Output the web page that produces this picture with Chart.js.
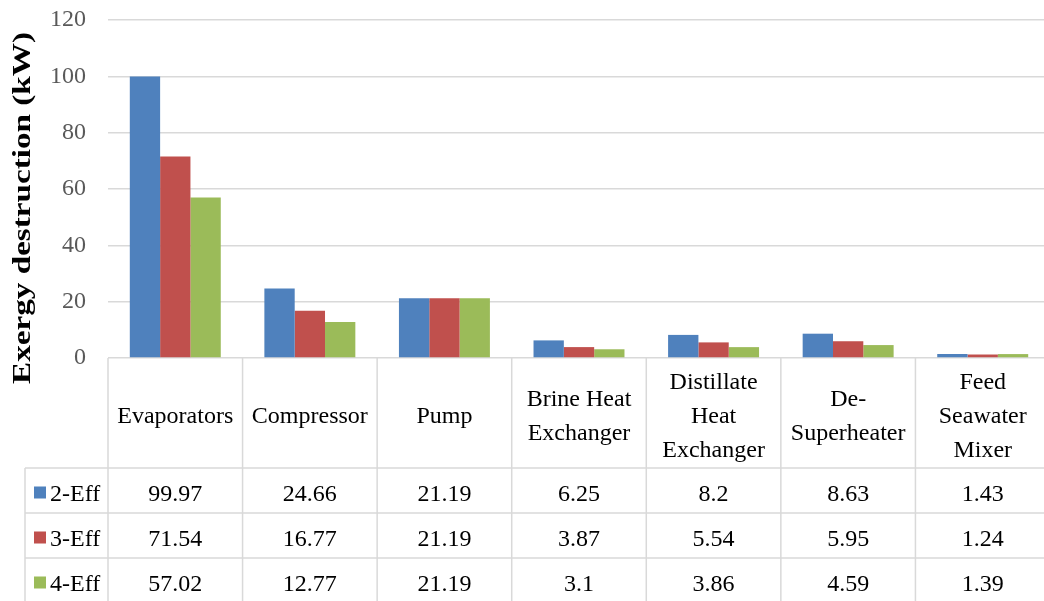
<!DOCTYPE html>
<html>
<head>
<meta charset="utf-8">
<script src="https://cdn.jsdelivr.net/npm/chart.js@4"></script>
<style>
  html, body { margin: 0; padding: 0; background: #ffffff; }
  #wrap { width: 1044px; height: 601px; overflow: hidden; position: relative; }
  #c { display: block; }
</style>
</head>
<body>
<div id="wrap"><canvas id="c" width="1051" height="601"></canvas></div>
<script>
// Components, each label split into the lines shown in the table header
const categories = [
  ['Evaporators'],
  ['Compressor'],
  ['Pump'],
  ['Brine Heat', 'Exchanger'],
  ['Distillate', 'Heat', 'Exchanger'],
  ['De-', 'Superheater'],
  ['Feed', 'Seawater', 'Mixer']
];

const seriesNames = ['2-Eff', '3-Eff', '4-Eff'];

// Exergy destruction (kW) per component
const eff2 = [99.97, 24.66, 21.19, 6.25, 8.2, 8.63, 1.43];
const eff3 = [71.54, 16.77, 21.19, 3.87, 5.54, 5.95, 1.24];
const eff4 = [57.02, 12.77, 21.19, 3.1, 3.86, 4.59, 1.39];

const yTicks = [0, 20, 40, 60, 80, 100, 120];

const seriesColors = ['#4F81BD', '#C0504D', '#9BBB59'];
const seriesValues = [eff2, eff3, eff4];

const SERIF = '"Liberation Serif", "Times New Roman", serif';
const LINE = '#d9d9d9';

// Data table under the plot: header row of component names, then one row per series
const dataTablePlugin = {
  id: 'dataTable',
  afterDraw(chart) {
    const ctx = chart.ctx;
    const area = chart.chartArea;
    const xs = chart.scales.x;
    const n = chart.data.labels.length;
    const catW = (area.right - area.left) / n;
    const headerH = 110;
    const rowH = 45;
    const legendLeft = 25;
    const bottom = chart.height;
    const headerBottom = area.bottom + headerH;

    ctx.save();
    ctx.strokeStyle = LINE;
    ctx.lineWidth = 1.5;

    // horizontal rules
    ctx.beginPath();
    for (let r = 0; r < seriesNames.length; r++) {
      const y = headerBottom + r * rowH;
      ctx.moveTo(legendLeft, y);
      ctx.lineTo(chart.width, y);
    }
    // legend column left edge
    ctx.moveTo(legendLeft, headerBottom);
    ctx.lineTo(legendLeft, bottom);
    // column edges
    ctx.moveTo(area.left, area.bottom);
    ctx.lineTo(area.left, bottom);
    for (let i = 0; i < n; i++) {
      const x = xs.getPixelForValue(i) + catW / 2;
      ctx.moveTo(x, area.bottom);
      ctx.lineTo(x, bottom);
    }
    ctx.stroke();

    ctx.fillStyle = '#000000';
    ctx.font = '24px ' + SERIF;
    ctx.textAlign = 'center';
    ctx.textBaseline = 'alphabetic';

    // header: component names
    const midBase = area.bottom + 65;
    const lineGap = 34;
    chart.data.labels.forEach((lines, i) => {
      const cx = xs.getPixelForValue(i);
      lines.forEach((txt, j) => {
        const y = midBase + (j - (lines.length - 1) / 2) * lineGap;
        ctx.fillText(txt, cx, y);
      });
    });

    // series rows
    chart.data.datasets.forEach((ds, r) => {
      const rowMid = headerBottom + r * rowH + rowH / 2;
      ctx.textAlign = 'center';
      ds.data.forEach((v, i) => {
        ctx.fillText(String(v), xs.getPixelForValue(i), rowMid + 10);
      });
      // legend key
      ctx.fillStyle = ds.backgroundColor;
      ctx.fillRect(34, rowMid - 4, 12, 12);
      ctx.fillStyle = '#000000';
      ctx.textAlign = 'left';
      ctx.fillText(ds.label, 50, rowMid + 10);
    });
    ctx.restore();
  }
};

// Rotated bold axis title on the left
const axisTitlePlugin = {
  id: 'axisTitle',
  afterDraw(chart) {
    const ctx = chart.ctx;
    const text = 'Exergy destruction (kW)';
    ctx.save();
    ctx.font = 'bold 26px ' + SERIF;
    const w = ctx.measureText(text).width;
    const targetLen = 352;
    ctx.translate(23, 208);
    ctx.rotate(-Math.PI / 2);
    ctx.scale(targetLen / w, 1);
    ctx.fillStyle = '#000000';
    ctx.textAlign = 'center';
    ctx.textBaseline = 'middle';
    ctx.fillText(text, 0, 0);
    ctx.restore();
  }
};

new Chart(document.getElementById('c'), {
  type: 'bar',
  data: {
    labels: categories,
    datasets: seriesNames.map((name, k) => ({
      label: name,
      data: seriesValues[k],
      backgroundColor: seriesColors[k],
      borderWidth: 0,
      barPercentage: 1.0,
      categoryPercentage: 0.676
    }))
  },
  options: {
    responsive: false,
    animation: false,
    devicePixelRatio: 1,
    layout: { padding: { left: 0, top: 20, right: 1, bottom: 0 } },
    plugins: {
      legend: { display: false },
      tooltip: { enabled: false },
      title: { display: false }
    },
    scales: {
      x: {
        ticks: { display: false },
        grid: { display: false },
        border: { display: false },
        afterFit(scale) { scale.height = 243; }
      },
      y: {
        min: 0,
        max: 120,
        afterBuildTicks(scale) { scale.ticks = yTicks.map(v => ({ value: v })); },
        ticks: {
          padding: 22,
          color: '#595959',
          font: { family: SERIF, size: 24 }
        },
        grid: { color: LINE, lineWidth: 1.5, drawTicks: false },
        border: { display: false },
        afterFit(scale) {
          scale.width = 108;
          scale.paddingTop = 0;
          scale.paddingBottom = 0;
        }
      }
    }
  },
  plugins: [dataTablePlugin, axisTitlePlugin]
});
</script>
</body>
</html>
